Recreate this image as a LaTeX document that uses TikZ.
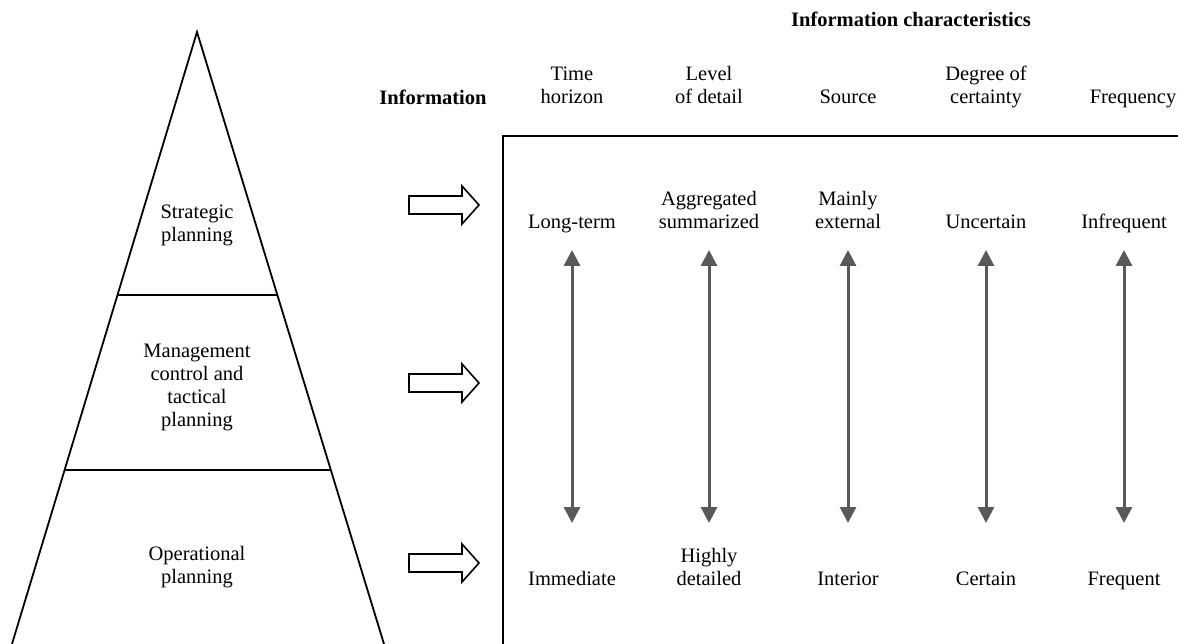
\documentclass[tikz,border=0pt]{standalone}
\usepackage{fontspec}
\setmainfont{Liberation Serif}
\usetikzlibrary{arrows.meta}
\definecolor{arrowgray}{HTML}{595959}
\begin{document}
\begin{tikzpicture}[x=1pt,y=-1pt,
  lbl/.style={inner sep=0pt,align=center,anchor=base,font=\fontsize{20.5}{23}\selectfont},
  hdr/.style={lbl,font=\fontsize{20.5}{23}\selectfont\bfseries},
  edgeline/.style={line width=1.8pt,line cap=rect},
  hollowarrow/.style={line width=1.6pt,line join=miter,fill=white},
  spanarrow/.style={draw=arrowgray,line width=3pt,{Triangle[length=16pt,width=16pt]}-{Triangle[length=16pt,width=16pt]}}]
\useasboundingbox (0,0) rectangle (1178,644);

% pyramid, open at the bottom
\coordinate (apex) at (197,32);
\coordinate (bl) at (12,644);
\coordinate (br) at (384,644);
\draw[edgeline,line join=miter] (bl) -- (apex) -- (br);
\draw[edgeline] (117.5,295) -- (276.5,295);
\draw[edgeline] (64.6,470) -- (329.4,470);

% (multi-line labels are placed by the baseline of their last line)
\node[lbl] (strat) at (197,242) {Strategic\\planning};
\node[lbl] (mgmt) at (197,426) {Management\\control and\\tactical\\planning};
\node[lbl] (oper) at (197,583) {Operational\\planning};

% hollow arrows toward the table
\foreach \yy in {205,383,563}{
  \draw[hollowarrow] (409,\yy-9) -- (462,\yy-9) -- (462,\yy-19) -- (479,\yy)
    -- (462,\yy+19) -- (462,\yy+9) -- (409,\yy+9) -- cycle;
}

% table frame (top and left edges)
\coordinate (tl) at (503,136);
\draw[edgeline] (1178,136) -- (tl) -- (503,644);

% headings
\node[hdr] (title) at (911,27) {Information characteristics};
\node[hdr] (info) at (433,105) {Information};

\node[lbl] (h1) at (572,104) {Time\\horizon};
\node[lbl] (h2) at (709,104) {Level\\of detail};
\node[lbl] (h3) at (848,104) {Source};
\node[lbl] (h4) at (986,104) {Degree of\\certainty};
\node[lbl] (h5) at (1133,104) {Frequency};

% upper values
\node[lbl] (t1) at (572,229) {Long-term};
\node[lbl] (t2) at (709,229) {Aggregated\\summarized};
\node[lbl] (t3) at (848,229) {Mainly\\external};
\node[lbl] (t4) at (986,229) {Uncertain};
\node[lbl] (t5) at (1124,229) {Infrequent};

% lower values
\node[lbl] (b1) at (572,585) {Immediate};
\node[lbl] (b2) at (709,585) {Highly\\detailed};
\node[lbl] (b3) at (848,585) {Interior};
\node[lbl] (b4) at (986,585) {Certain};
\node[lbl] (b5) at (1124,585) {Frequent};

% ranges between the extremes
\foreach \xx/\nm in {572/r1,709/r2,848/r3,986/r4,1124/r5}{
  \coordinate (\nm top) at (\xx,250);
  \coordinate (\nm bot) at (\xx,523);
  \draw[spanarrow] (\nm top) -- (\nm bot);
}
\end{tikzpicture}
\end{document}
